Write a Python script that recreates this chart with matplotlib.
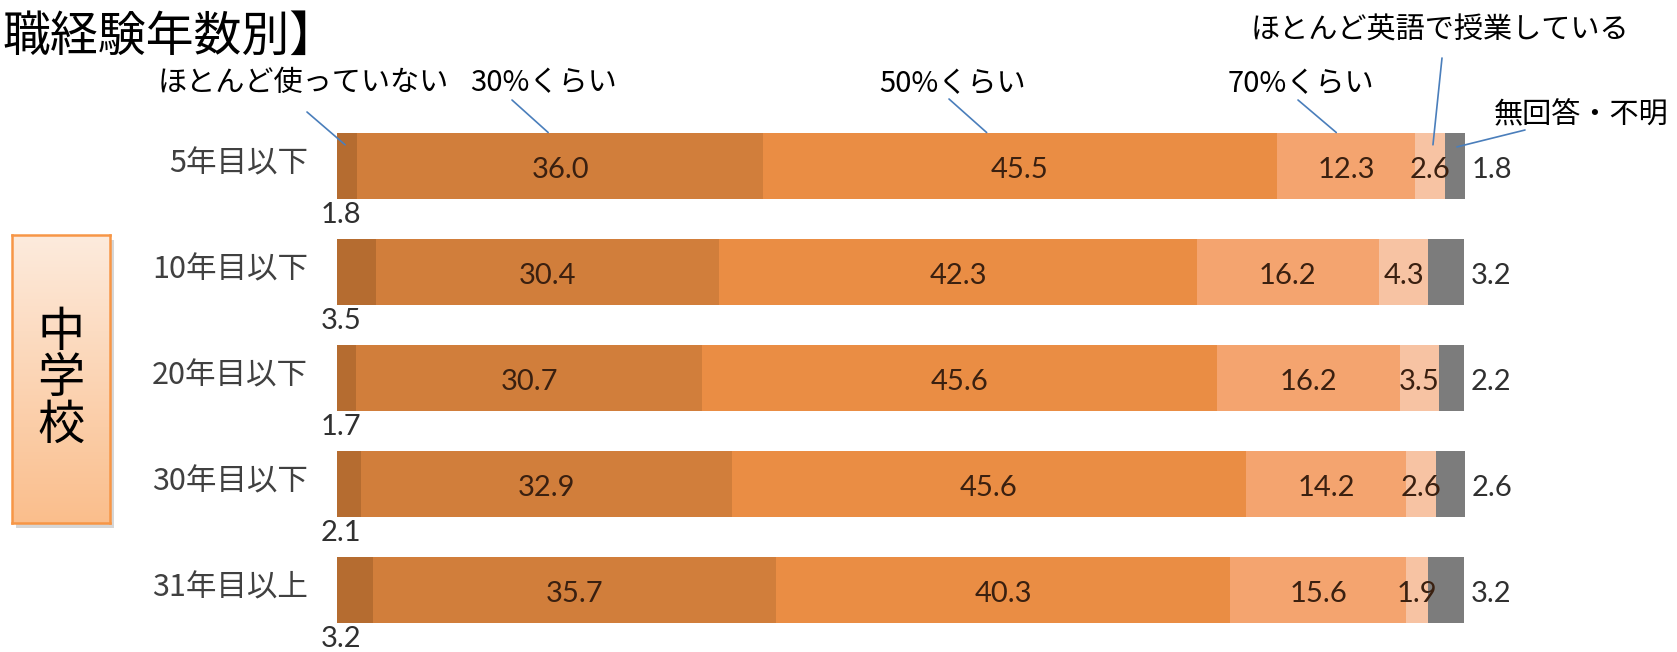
import matplotlib
matplotlib.use('Agg')
import matplotlib.pyplot as plt
import numpy as np

plt.rcParams['font.family'] = ['Noto Sans CJK JP', 'DejaVu Sans']

# answers by teaching experience (junior high school), percent
groups = ['5年目以下', '10年目以下', '20年目以下', '30年目以下', '31年目以上']
hardly = [1.8, 3.5, 1.7, 2.1, 3.2]
pct30 = [36.0, 30.4, 30.7, 32.9, 35.7]
pct50 = [45.5, 42.3, 45.6, 45.6, 40.3]
pct70 = [12.3, 16.2, 16.2, 14.2, 15.6]
english = [2.6, 4.3, 3.5, 2.6, 1.9]
no_answer = [1.8, 3.2, 2.2, 2.6, 3.2]

series = [hardly, pct30, pct50, pct70, english, no_answer]
series_names = ['ほとんど使っていない', '30%くらい', '50%くらい', '70%くらい',
                'ほとんど英語で授業している', '無回答・不明']
colors = ['#B56C30', '#D17E3B', '#EA8D44', '#F4A46F', '#F7C3A3', '#7C7C7C']

W, H = 1677, 652
fig = plt.figure(figsize=(W / 100, H / 100), dpi=100)
fig.patch.set_facecolor('white')

# bar axes, 0-100% across
ax = fig.add_axes([337 / W, 1 - 643 / H, 1128 / W, 530 / H])
ax.set_xlim(0, 100)
ax.set_ylim(4.5, -0.5)
ax.axis('off')

ypos = np.arange(len(groups))
bar_h = 0.632
left = np.zeros(len(groups))
lefts = []
for vals, col in zip(series, colors):
    vals = np.array(vals)
    ax.barh(ypos, vals, left=left, height=bar_h, color=col, edgecolor='none')
    lefts.append(left.copy())
    left = left + vals

num_font = 'Lato'
num_size = 21
inner_col = '#3A2010'
for i in range(len(groups)):
    # first segment: value below the bar
    ax.text(0.35, ypos[i] + bar_h / 2 + 0.02, f'{hardly[i]:.1f}', ha='center', va='top',
            fontsize=num_size, color='#303030', family=num_font)
    # middle segments: value in the centre
    for k in (1, 2, 3, 4):
        v = series[k][i]
        ax.text(lefts[k][i] + v / 2, ypos[i] + 0.04, f'{v:.1f}', ha='center', va='center',
                fontsize=num_size, color=inner_col, family=num_font)
    # last segment: value to the right of the bar
    ax.annotate(f'{no_answer[i]:.1f}', xy=(left[i], ypos[i] + 0.04), xytext=(5, 0),
                textcoords='offset points', ha='left', va='center',
                fontsize=num_size, color='#303030', family=num_font)

# row labels
for i, g in enumerate(groups):
    ax.annotate(g, xy=(0, ypos[i] - 0.02), xytext=(-21, 0), textcoords='offset points',
                ha='right', va='center', fontsize=22, color='#404040')

# series labels with leader lines to the first bar
label_pos = [(158, 83), (470, 83), (879, 84), (1228, 84), (1251, 31), (1494, 115)]
line_start = [(307, 112), (512, 100), (949, 99), (1298, 100), (1442, 58), (1525, 130)]
line_frac = [(0.4, -0.2), (0.47, -bar_h / 2), (0.435, -bar_h / 2),
             (0.43, -bar_h / 2), (0.6, -0.2), (0.6, -0.18)]
for k, name in enumerate(series_names):
    lx, ly = label_pos[k]
    fig.text(lx / W, 1 - ly / H, name, ha='left', va='center', fontsize=21, color='black')
    fx, fy = line_frac[k]
    x_end = lefts[k][0] + fx * series[k][0]
    sx, sy = line_start[k]
    ax.annotate('', xy=(x_end, fy), xycoords='data',
                xytext=(sx, H - sy), textcoords='figure pixels',
                arrowprops=dict(arrowstyle='-', color='#4A7EBB', lw=1.2,
                                shrinkA=0, shrinkB=0))

# heading
fig.text(2 / W, 1 - 37 / H, '職経験年数別】', ha='left', va='center', fontsize=34.5, color='black')

# school-type box with vertical gradient
shadow = fig.add_axes([16 / W, 1 - 528 / H, 98 / W, 288 / H])
shadow.set_facecolor('#BBBBBB')
shadow.set_xticks([])
shadow.set_yticks([])
for s in shadow.spines.values():
    s.set_visible(False)
shadow.patch.set_alpha(0.6)

box = fig.add_axes([12 / W, 1 - 523 / H, 98 / W, 288 / H])
grad = np.linspace(0, 1, 256)[:, None]
top = np.array([0xFD, 0xEB, 0xDD]) / 255
bot = np.array([0xFA, 0xBE, 0x8C]) / 255
img = (top[None, None, :] * (1 - grad[..., None]) + bot[None, None, :] * grad[..., None])
box.imshow(img, aspect='auto', extent=(0, 1, 0, 1))
box.set_xlim(0, 1)
box.set_ylim(0, 1)
box.set_xticks([])
box.set_yticks([])
for s in box.spines.values():
    s.set_color('#F79646')
    s.set_linewidth(1.8)
box.text(0.5, 0.5, '中\n学\n校', ha='center', va='center', fontsize=34,
         linespacing=0.95, color='black', transform=box.transAxes)

fig.savefig('out.png', dpi=100, facecolor='white')
